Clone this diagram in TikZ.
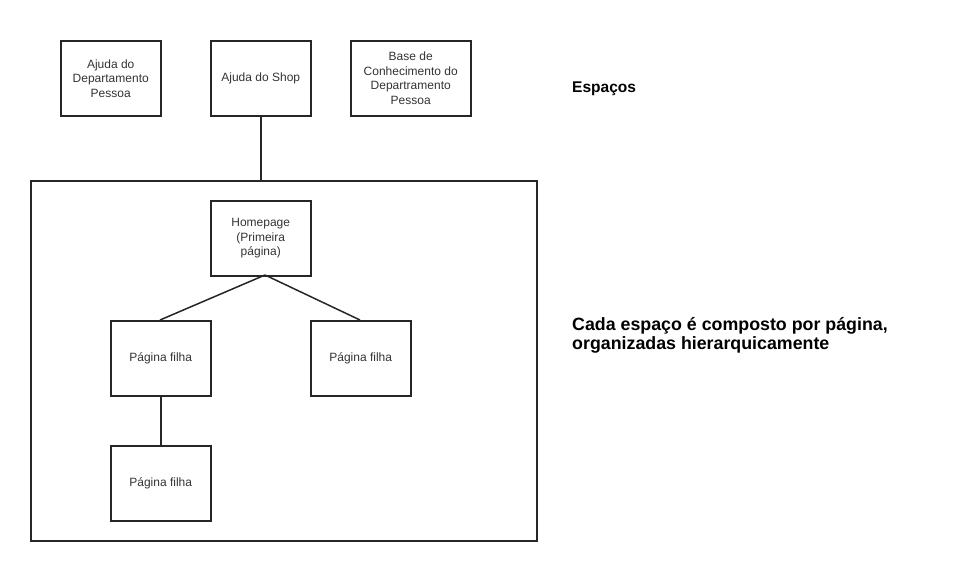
\documentclass[tikz,border=0pt]{standalone}
\usepackage{fontspec}
\setmainfont{Liberation Sans}
\begin{document}
\begin{tikzpicture}[x=1pt,y=-1pt,
  box/.style={draw=black!85, line width=1.5pt, minimum width=100pt, minimum height=75pt, anchor=north west, inner sep=0pt, align=center, font=\fontsize{12}{14.5}\selectfont, text=black!80},
  conn/.style={draw=black!85, line width=1.5pt},
  lbl/.style={align=left, inner sep=0pt, font=\bfseries}]
\useasboundingbox (0,0) rectangle (958,560);
\node[box] (ajdp) at (60,40) {Ajuda do\\Departamento\\Pessoa};
\node[box] (shop) at (210,40) {Ajuda do Shop};
\node[box, minimum width=120pt] (base) at (350,40) {Base de\\Conhecimento do\\Departramento\\Pessoa};
\node[draw=black!85, line width=1.5pt, minimum width=506pt, minimum height=360pt, anchor=north west, inner sep=0pt] (space) at (30,180) {};
\node[box] (home) at (210,200) {Homepage\\(Primeira\\página)};
\node[box] (f1) at (110,320) {Página filha};
\node[box] (f2) at (310,320) {Página filha};
\node[box] (f3) at (110,445) {Página filha};
\coordinate (hb) at (265,275);
\coordinate (f1t) at (160,320);
\coordinate (f2t) at (360,320);
\draw[conn] (shop.south) -- (shop.south |- space.north);
\draw[conn] (hb) -- (f1t);
\draw[conn] (hb) -- (f2t);
\draw[conn] (f1.south) -- (f3.north);
\node[lbl, anchor=base west, font=\fontsize{15.5}{18}\selectfont\bfseries] (esp) at (572,92) {Espaços};
\node[lbl, anchor=base west, font=\fontsize{17.8}{19}\selectfont\bfseries] (cada) at (572,349) {Cada espaço é composto por página,\\organizadas hierarquicamente};
\end{tikzpicture}
\end{document}
